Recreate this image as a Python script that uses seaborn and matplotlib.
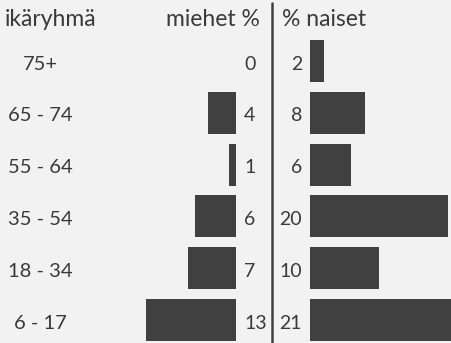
import matplotlib
matplotlib.use("Agg")
import matplotlib.pyplot as plt
import matplotlib.transforms as mtransforms
import seaborn as sns
import pandas as pd

# Age groups and shares (%) by sex
age_groups = ["75+", "65 - 74", "55 - 64", "35 - 54", "18 - 34", "6 - 17"]
men = [0, 4, 1, 6, 7, 13]
women = [2, 8, 6, 20, 10, 21]

header_age = "ikäryhmä"
header_men = "miehet %"
header_women = "% naiset"

BG = "#f2f2f2"
BAR = "#404040"
TXT = "#3a3a3a"
FONT = ["Lato", "DejaVu Sans"]
FS_HEAD = 16.5
FS_AGE = 14.5
FS_VAL = 14

sns.set_theme(style="white")
plt.rcParams["font.family"] = FONT

W, H = 452, 343
fig = plt.figure(figsize=(W / 100, H / 100), dpi=100)
fig.patch.set_facecolor(BG)

PX_PER_UNIT = 6.9
ROW0_C, ROW_PITCH = 61.0, 51.8
n = len(age_groups)
ylim = (n - 1 + (H - (ROW0_C + (n - 1) * ROW_PITCH)) / ROW_PITCH, -ROW0_C / ROW_PITCH)


def px_axes(x0, x1):
    return fig.add_axes([x0 / W, 0, (x1 - x0) / W, 1])


df = pd.DataFrame({"age": age_groups, "men": men, "women": women})

# Men: bars grow leftwards, ending at x=236
axL = px_axes(0, 236)
sns.barplot(data=df, y="age", x="men", orient="h", color=BAR, width=0.81,
            saturation=1, ax=axL)
axL.set_xlim(236 / PX_PER_UNIT, 0)

# Women: bars grow rightwards, starting at x=310
axR = px_axes(310, 452)
sns.barplot(data=df, y="age", x="women", orient="h", color=BAR, width=0.81,
            saturation=1, ax=axR)
axR.set_xlim(0, 142 / PX_PER_UNIT)

for ax in (axL, axR):
    ax.set_ylim(*ylim)
    ax.set_facecolor("none")
    ax.axis("off")
    for p in ax.patches:
        p.set_edgecolor("none")

# Labels beside the bars
trL = mtransforms.blended_transform_factory(fig.transFigure, axL.transData)
for i, (age, m, w) in enumerate(zip(age_groups, men, women)):
    fig.text(40 / W, i + 0.06, age, transform=trL, ha="center", va="center",
             fontsize=FS_AGE, color=TXT)
    fig.text(244 / W, i + 0.06, f"{m}", transform=trL, ha="left", va="center",
             fontsize=FS_VAL, color=TXT)
    fig.text(302 / W, i + 0.06, f"{w}", transform=trL, ha="right", va="center",
             fontsize=FS_VAL, color=TXT)

# Headers
fig.text(5 / W, 1 - 20 / H, header_age, ha="left", va="center", fontsize=FS_HEAD, color=TXT)
fig.text(260 / W, 1 - 20 / H, header_men, ha="right", va="center", fontsize=FS_HEAD, color=TXT)
fig.text(282 / W, 1 - 20 / H, header_women, ha="left", va="center", fontsize=FS_HEAD, color=TXT)

# Divider between the two sides
fig.add_artist(plt.Line2D([272.5 / W, 272.5 / W], [0, 1 - 3 / H],
                          transform=fig.transFigure, color=BAR, linewidth=1.8))

fig.savefig("out.png", dpi=100, facecolor=BG)
